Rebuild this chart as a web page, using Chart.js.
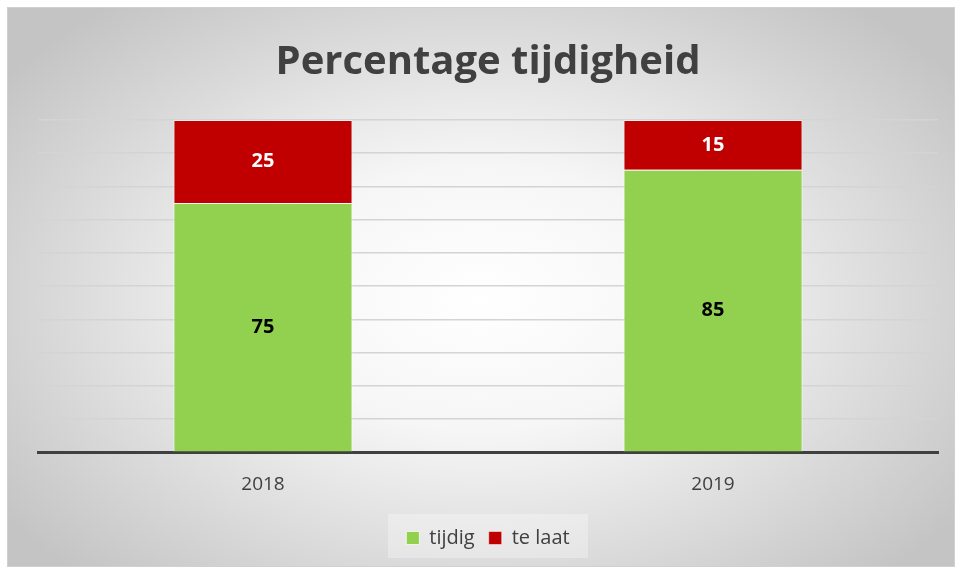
<!DOCTYPE html>
<html>
<head>
<meta charset="utf-8">
<script src="https://cdn.jsdelivr.net/npm/chart.js@4"></script>
<style>
  body { margin: 0; background: #ffffff; }
  .frame {
    position: absolute; left: 7px; top: 7px; width: 946px; height: 558px;
    border: 1px solid #d0d0d0;
    background: radial-gradient(ellipse 62% 68% at 50% 52%, #ffffff 0%, #f6f6f6 35%, #c4c4c4 100%);
  }
  canvas { display: block; }
</style>
</head>
<body>
<div class="frame">
  <canvas id="chartTijd" width="946" height="558"></canvas>
</div>
<script>
const years = ["2018", "2019"];
const tijdig = [75, 85];
const teLaat = [25, 15];

// labels in the middle of each bar segment
const barLabels = {
  id: "barLabels",
  afterDatasetsDraw(chart) {
    const ctx = chart.ctx;
    ctx.save();
    ctx.font = "bold 20px 'Open Sans', sans-serif";
    ctx.textAlign = "center";
    ctx.textBaseline = "middle";
    chart.data.datasets.forEach((ds, i) => {
      chart.getDatasetMeta(i).data.forEach((bar, j) => {
        const mid = (bar.y + bar.base) / 2;
        ctx.fillStyle = ds.labelColor;
        ctx.fillText(ds.data[j], bar.x, mid);
      });
    });
    ctx.restore();
  }
};

// faint box behind the legend
const legendBox = {
  id: "legendBox",
  beforeDraw(chart) {
    const l = chart.legend;
    if (!l) return;
    const ctx = chart.ctx;
    ctx.save();
    ctx.fillStyle = "rgba(255,255,255,0.3)";
    ctx.fillRect(l.left + (l.width - 200) / 2, l.top, 200, l.height);
    ctx.restore();
  }
};

new Chart(document.getElementById("chartTijd"), {
  type: "bar",
  data: {
    labels: years,
    datasets: [
      {
        label: "tijdig",
        data: tijdig,
        backgroundColor: "#92d050",
        borderColor: "rgba(255,255,255,0.7)",
        borderWidth: 1,
        labelColor: "#000000"
      },
      {
        label: "te laat",
        data: teLaat,
        backgroundColor: "#c00000",
        borderColor: "rgba(255,255,255,0.5)",
        borderWidth: 1,
        labelColor: "#ffffff"
      }
    ]
  },
  options: {
    responsive: false,
    animation: false,
    layout: { padding: { left: 30, right: 16, top: 10, bottom: 8 } },
    datasets: { bar: { categoryPercentage: 1, barPercentage: 0.398 } },
    plugins: {
      title: {
        display: true,
        text: "Percentage tijdigheid",
        color: "#404040",
        font: { size: 40, weight: "bold", family: "'Open Sans', sans-serif" },
        padding: { top: 21, bottom: 33 }
      },
      legend: {
        position: "bottom",
        labels: {
          color: "#404040",
          font: { size: 20, family: "'Open Sans', sans-serif" },
          boxWidth: 13,
          boxHeight: 13,
          padding: 14
        }
      },
      tooltip: { enabled: false }
    },
    scales: {
      x: {
        stacked: true,
        grid: { display: false },
        border: { color: "#404040", width: 3 },
        ticks: { color: "#404040", font: { size: 19, family: "'Open Sans', sans-serif" }, padding: 13 },
        afterFit(scale) { scale.height += 5; }
      },
      y: {
        stacked: true,
        min: 0,
        max: 100,
        ticks: { display: false, stepSize: 10 },
        border: { display: false },
        grid: { color: "#d4d4d4", lineWidth: 1.5, drawTicks: false }
      }
    }
  },
  plugins: [legendBox, barLabels]
});
</script>
</body>
</html>
